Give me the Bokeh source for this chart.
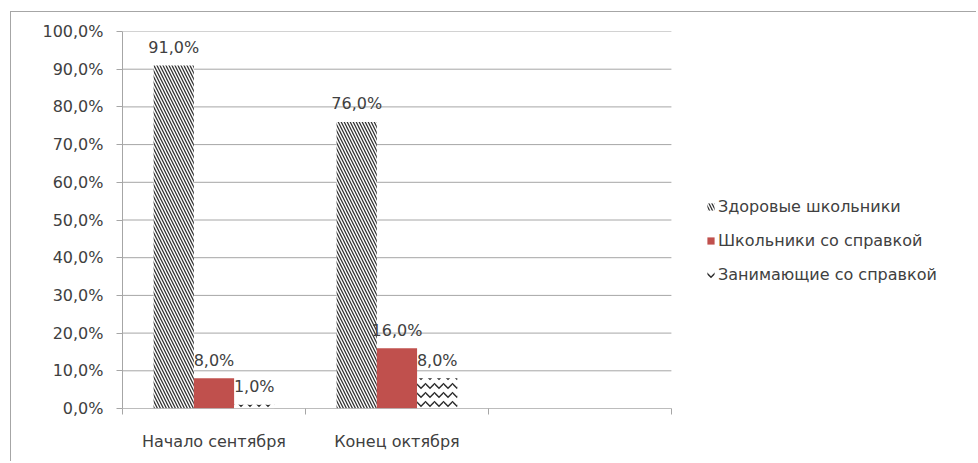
from bokeh.plotting import figure
from bokeh.models import Range1d, FixedTicker, ColumnDataSource, Legend, LegendItem
from bokeh.core.properties import value
from bokeh.embed import file_html
from bokeh.resources import INLINE

categories = ["Начало сентября", "Конец октября", ""]
series_names = ["Здоровые школьники", "Школьники со справкой", "Занимающие со справкой"]
healthy = [91.0, 76.0]
with_note = [8.0, 16.0]
occupying = [1.0, 8.0]
y_ticks = [0, 10, 20, 30, 40, 50, 60, 70, 80, 90, 100]
y_tick_labels = ["0,0%", "10,0%", "20,0%", "30,0%", "40,0%", "50,0%", "60,0%", "70,0%", "80,0%", "90,0%", "100,0%"]

FONT = "DejaVu Sans"
FS = "16px"
TXT = "#404040"
GRID = "#A6A6A6"

ncat = len(categories)
p = figure(width=966, height=450, output_backend="svg", toolbar_location=None,
           x_range=Range1d(0, 4.58), y_range=Range1d(0, 100),
           min_border_left=111, min_border_top=19, min_border_bottom=54, min_border_right=17)
p.styles = {"margin-left": "10px", "margin-top": "11px",
            "border-left": "1px solid #A6A6A6", "border-top": "1px solid #A6A6A6"}
p.outline_line_color = None
p.xgrid.visible = False
p.ygrid.visible = False

# horizontal gridlines across the category area only
p.segment(x0=[0] * len(y_ticks), x1=[ncat] * len(y_ticks), y0=y_ticks, y1=y_ticks,
          line_color=GRID, line_width=1)

# y axis
p.yaxis.ticker = FixedTicker(ticks=y_ticks)
p.yaxis.major_label_overrides = {t: l for t, l in zip(y_ticks, y_tick_labels)}
p.yaxis.axis_line_color = GRID
p.yaxis.major_tick_line_color = GRID
p.yaxis.major_tick_out = 6
p.yaxis.major_tick_in = 0
p.yaxis.minor_tick_line_color = None
p.yaxis.major_label_text_font = FONT
p.yaxis.major_label_text_font_size = FS
p.yaxis.major_label_text_color = TXT
p.yaxis.major_label_standoff = 13

# x axis: labels at centers, ticks at boundaries
centers = [i + 0.5 for i in range(ncat)]
p.xaxis.ticker = FixedTicker(ticks=centers, minor_ticks=list(range(ncat + 1)))
p.xaxis.major_label_overrides = {c: l for c, l in zip(centers, categories)}
p.xaxis.axis_line_color = None
p.xaxis.major_tick_line_color = None
p.xaxis.minor_tick_line_color = GRID
p.xaxis.minor_tick_out = 6
p.xaxis.minor_tick_in = 0
p.xaxis.major_label_text_font = FONT
p.xaxis.major_label_text_font_size = FS
p.xaxis.major_label_text_color = TXT
p.xaxis.major_label_standoff = 17

bw = 0.22
offsets = [-bw, 0.0, bw]
vals = [healthy, with_note, occupying]
styles = [
    dict(fill_color="white", hatch_pattern="left_diagonal_line", hatch_color="#333333", hatch_scale=6, hatch_weight=1.3),
    dict(fill_color="#C0504D"),
    dict(fill_color="white", hatch_pattern="horizontal_wave", hatch_color="#2a2a2a", hatch_scale=9, hatch_weight=1.5),
]
items = []
for name, v, off, st in zip(series_names, vals, offsets, styles):
    xs = [centers[i] + off for i in range(len(v))]
    src = ColumnDataSource(dict(x=xs, top=v, lab=[("%.1f%%" % t).replace(".", ",") for t in v]))
    r = p.vbar(x="x", top="top", bottom=0, width=bw, source=src, line_color=None, **st)
    p.text(x="x", y="top", text="lab", source=src, text_align="center", text_baseline="middle",
           y_offset=-18, text_font=value(FONT), text_font_size=FS, text_color=TXT)
    items.append(LegendItem(label=name, renderers=[r]))

# category axis line (only across the category area)
p.segment(x0=[0], x1=[ncat], y0=[0], y1=[0], line_color=GRID, line_width=1)

legend = Legend(items=items, location=(584, 124), orientation="vertical",
                glyph_width=9, glyph_height=9, label_height=20, spacing=14,
                padding=0, margin=0, border_line_color=None, background_fill_alpha=0,
                label_text_font=FONT, label_text_font_size=FS, label_text_color=TXT,
                label_standoff=3)
p.add_layout(legend, "center")

open("out.html", "w").write(file_html(p, INLINE))
